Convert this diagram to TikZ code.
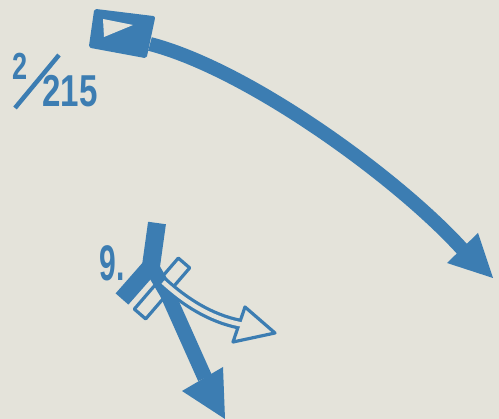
\documentclass[tikz,border=0pt]{standalone}
\usepackage{fontspec}
\setmainfont{Liberation Sans}
\definecolor{ink}{HTML}{3C7DB2}
\definecolor{paper}{HTML}{E4E3DA}
\begin{document}
\begin{tikzpicture}[x=1pt,y=-1pt,
  lbl/.style={text=ink,inner sep=0pt,outer sep=0pt,anchor=center},
  stroke/.style={draw=ink,line join=round},
  openline/.style={draw=ink,fill=paper,line width=3.2pt,line join=round}]
\fill[paper] (0,0) rectangle (499,419);
\useasboundingbox (0,0) rectangle (499,419);
% label 2/215
\node[lbl,font=\fontsize{37.7}{40}\selectfont\bfseries,xscale=0.72] (num2) at (20,66.5) {2};
\node[lbl,font=\fontsize{44.7}{46}\selectfont\bfseries,xscale=0.74] (num215) at (70,91) {215};
\coordinate (slA) at (15,108);
\coordinate (slB) at (59,55);
\draw[stroke,line width=4.5pt] (slA) -- (slB);
% long curved arrow
\coordinate (s0) at (150,44);
\coordinate (s1) at (463,250);
\draw[stroke,line width=14pt] (s0) .. controls (250,70) and (400,180) .. (s1);
\fill[ink] (447,263) -- (493,278) -- (478,233) -- cycle;
\filldraw[ink,line width=4pt,line join=round] (96,11) -- (153,18) -- (145,56) -- (91,46) -- cycle;
\fill[paper] (103,19) -- (133,25) -- (104,37) -- cycle;
% label 9.
\node[lbl,font=\fontsize{50}{52}\selectfont\bfseries,xscale=0.6] (num9) at (112,263) {9.};
% open tail bar
\draw[openline] (134.3,309.1) -- (145.7,318.9) -- (189.7,267.9) -- (178.3,258.1) -- cycle;
% thick blue strokes
\coordinate (k0) at (157,223);
\coordinate (k1) at (151,266);
\coordinate (k2) at (122,299);
\draw[stroke,line width=18pt] (k0) -- (k1);
\draw[stroke,line width=17pt] (k1) -- (k2);
\coordinate (m0) at (167,293);
\coordinate (m1) at (205,378);
\draw[stroke,line width=15pt] (k1) -- (m0) -- (m1);
\fill[ink] (182,391) -- (225,419) -- (223,367) -- cycle;
% open curved arrow
\draw[openline] (233,342) -- (245,307) -- (275,333) -- cycle;
\coordinate (o0) at (163,282);
\coordinate (o1) at (239,324);
\draw[draw=ink,line width=11pt] (o0) .. controls (185,302) and (210,318) .. (o1);
\draw[draw=paper,line width=4.5pt] (o0) .. controls (185,302) and (210,318) .. (o1) -- (244,325);
\end{tikzpicture}
\end{document}
